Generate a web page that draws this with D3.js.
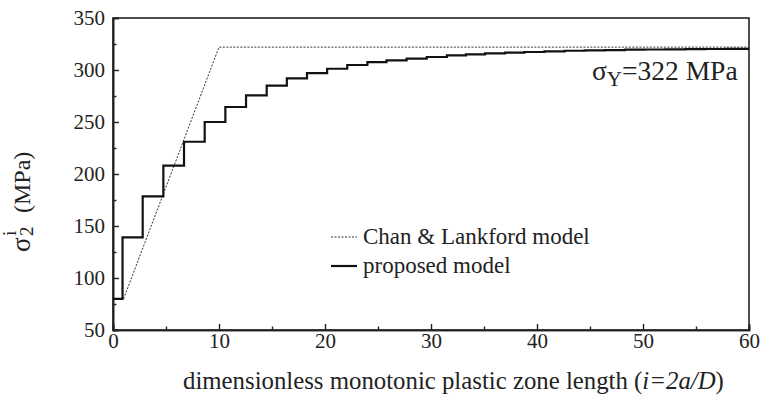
<!DOCTYPE html>
<html><head><meta charset="utf-8">
<script src="https://cdn.jsdelivr.net/npm/d3@7"></script>
<style>
html,body{margin:0;padding:0;background:#fff;}
svg text{font-family:"Liberation Serif","Times New Roman",serif;fill:#222;}
</style></head>
<body><svg id="c" width="761" height="396"></svg>
<script>
// Data
const xTicks = [0, 10, 20, 30, 40, 50, 60];
const yTicks = [50, 100, 150, 200, 250, 300, 350];
const chanX = [1, 10, 60];
const chanY = [80, 322, 322];
// proposed model: step edges (x where level changes) and levels
const stepX = [0, 0.9, 2.8, 4.75, 6.7, 8.65, 10.6, 12.55, 14.5, 16.4, 18.3, 20.2, 22.1, 24.0, 25.8, 27.7, 29.6, 31.5, 33.3, 35.1, 37.0, 38.8, 40.7, 42.6, 44.5, 46.4, 48.3, 50.2, 52.1, 54.0, 55.9, 57.8, 59.7];
const stepY = [80, 139, 178.5, 208, 231, 250, 264.4, 275.6, 285, 292, 297, 301.2, 304.8, 307.5, 309.3, 310.9, 312.5, 314, 315, 316, 316.7, 317.3, 318, 318.5, 318.9, 319.2, 319.5, 319.7, 319.9, 320.1, 320.2, 320.3, 320.4];
const xEnd = 60;
const yieldLabel = "=322 MPa";
const legendLabels = ["Chan & Lankford model", "proposed model"];
const xTitle = ["dimensionless monotonic plastic zone length (", "i=2a/D", ")"];

const svg = d3.select("#c");
const L = 113, R = 749, T = 18, B = 330;
const x = d3.scaleLinear().domain([0, 60]).range([L, R]);
const y = d3.scaleLinear().domain([50, 350]).range([B, T]);

// frame
svg.append("rect").attr("x", L).attr("y", T).attr("width", R - L).attr("height", B - T)
  .attr("fill", "none").attr("stroke", "#222").attr("stroke-width", 1.6);

// axes with inward ticks
const xAxis = d3.axisBottom(x).tickValues(xTicks).tickSize(-6).tickPadding(3).tickFormat(d3.format("d"));
const gx = svg.append("g").attr("transform", `translate(0,${B})`).call(xAxis);
const gxm = svg.append("g").attr("transform", `translate(0,${B})`)
  .call(d3.axisBottom(x).tickValues(d3.range(5, 60, 10)).tickSize(-3.5).tickFormat(""));
const yAxis = d3.axisLeft(y).tickValues(yTicks).tickSize(-6).tickPadding(8).tickFormat(d3.format("d"));
const gy = svg.append("g").attr("transform", `translate(${L},0)`).call(yAxis);
const gym = svg.append("g").attr("transform", `translate(${L},0)`)
  .call(d3.axisLeft(y).tickValues(d3.range(75, 350, 50)).tickSize(-3.5).tickFormat(""));
[gx, gxm, gy, gym].forEach(g => {
  g.select(".domain").attr("stroke", "#222").attr("stroke-width", 1.6);
  g.selectAll(".tick line").attr("stroke", "#222").attr("stroke-width", 1.4);
  g.selectAll("text").attr("font-size", 21).attr("fill", "#222")
    .attr("font-family", "Liberation Serif, Times New Roman, serif");
});

// Chan & Lankford dotted line
const line = d3.line().x(d => x(d[0])).y(d => y(d[1]));
svg.append("path").datum(chanX.map((v, i) => [v, chanY[i]]))
  .attr("d", line).attr("fill", "none").attr("stroke", "#333")
  .attr("stroke-width", 1).attr("stroke-dasharray", "2,1.5");

// proposed step line
const pts = stepX.map((v, i) => [v, stepY[i]]);
pts.push([xEnd, stepY[stepY.length - 1]]);
const stepLine = d3.line().x(d => x(d[0])).y(d => y(d[1])).curve(d3.curveStepAfter);
svg.append("path").datum(pts).attr("d", stepLine).attr("fill", "none")
  .attr("stroke", "#111").attr("stroke-width", 2.2);

// yield label
const yl = svg.append("text").attr("x", 592).attr("y", 80).attr("font-size", 27.5);
yl.append("tspan").text("σ");
yl.append("tspan").attr("font-size", 21).attr("dy", 6).text("Y");
yl.append("tspan").attr("dy", -6).text(yieldLabel);

// legend
svg.append("line").attr("x1", 331).attr("x2", 357).attr("y1", 237).attr("y2", 237)
  .attr("stroke", "#333").attr("stroke-width", 1).attr("stroke-dasharray", "2,1.5");
svg.append("text").attr("x", 363).attr("y", 244).attr("font-size", 23).text(legendLabels[0]);
svg.append("line").attr("x1", 331).attr("x2", 357).attr("y1", 266).attr("y2", 266)
  .attr("stroke", "#111").attr("stroke-width", 2.2);
svg.append("text").attr("x", 363).attr("y", 273).attr("font-size", 23).text(legendLabels[1]);

// x label
const xl = svg.append("text").attr("x", 183).attr("y", 389).attr("font-size", 24.8);
xl.append("tspan").text(xTitle[0]);
xl.append("tspan").attr("font-style", "italic").text(xTitle[1]);
xl.append("tspan").text(xTitle[2]);

// y label (rotated)
const g = svg.append("g").attr("transform", "translate(30,252) rotate(-90)");
g.append("text").attr("x", 0).attr("y", 0).attr("font-size", 27).text("σ");
g.append("text").attr("x", 16).attr("y", -14).attr("font-size", 19).text("i");
g.append("text").attr("x", 16).attr("y", 3).attr("font-size", 19).text("2");
g.append("text").attr("x", 39).attr("y", 0).attr("font-size", 24).text("(MPa)");
</script></body></html>
